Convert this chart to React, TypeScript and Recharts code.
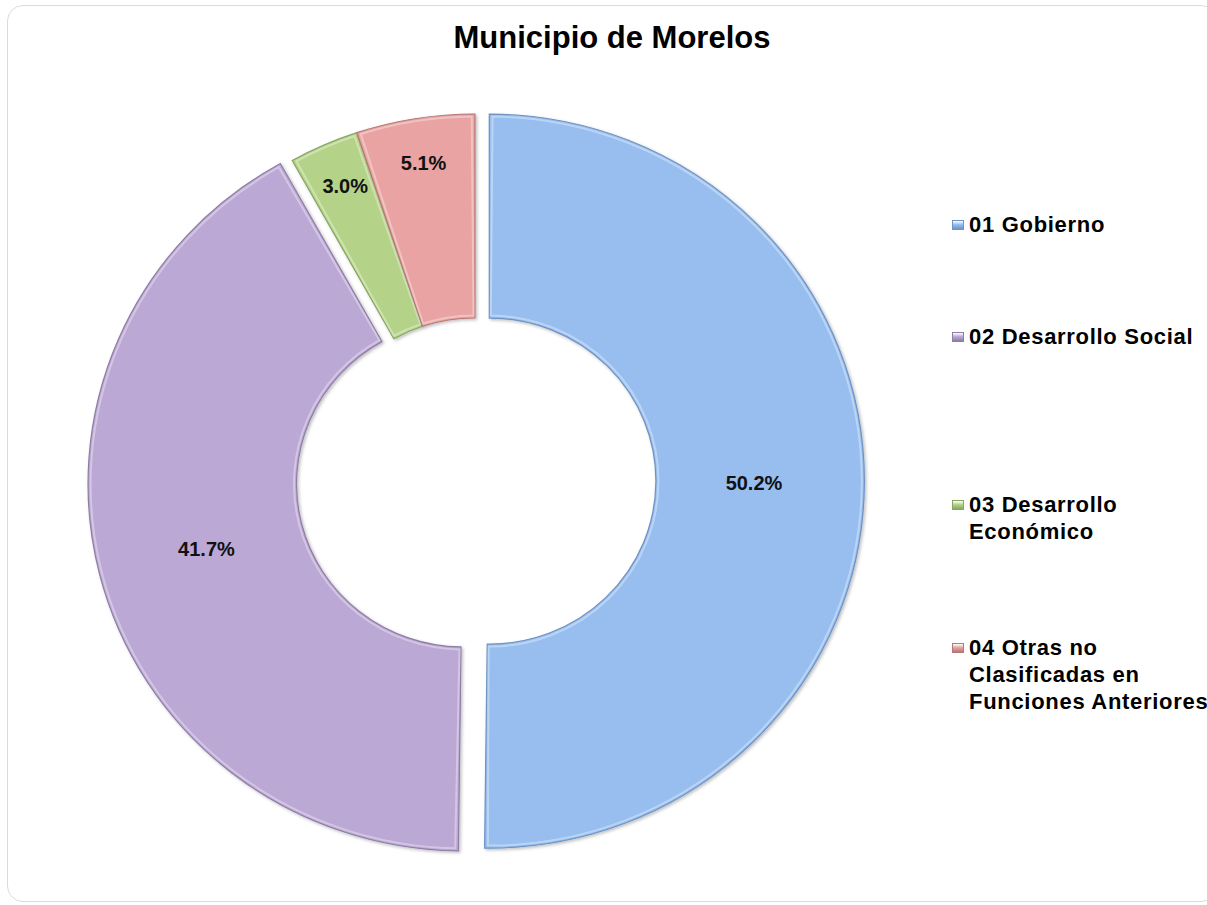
import React from "react";
import { PieChart, Pie, Cell, Sector, Legend } from "recharts";

const categories = [
  "01 Gobierno",
  "02 Desarrollo Social",
  "03 Desarrollo Económico",
  "04 Otras no Clasificadas en Funciones Anteriores",
];
const shares = [50.2, 41.7, 3.0, 5.1];
const legendLines = [
  ["01 Gobierno"],
  ["02 Desarrollo Social"],
  ["03 Desarrollo", "Económico"],
  ["04 Otras no", "Clasificadas en", "Funciones Anteriores"],
];

const COLORS = ["#97BEEF", "#BBA8D4", "#B4D389", "#E8A3A2"];
const EDGES = ["#6F93C4", "#8F7DA8", "#88A660", "#B97877"];
const EXPLODE = [14, 12, 0, 0];
const LEGEND_TOP = [211, 323, 491, 634];
const STRETCH_X = 1.022;

const RAD = Math.PI / 180;

const data = categories.map((name, i) => ({ name, value: shares[i] }));

function shift(index: number, midAngle: number) {
  const off = EXPLODE[index] ?? 0;
  return {
    dx: off * Math.cos(-midAngle * RAD),
    dy: off * Math.sin(-midAngle * RAD),
  };
}

function Slice(props: any) {
  const { cx, cy, innerRadius, outerRadius, startAngle, endAngle, midAngle, index } = props;
  const { dx, dy } = shift(index, midAngle);
  const dir = startAngle > endAngle ? -1 : 1;
  return (
    <g transform={`translate(${cx} 0) scale(${STRETCH_X} 1) translate(${-cx} 0)`}>
      <g filter="url(#sliceShadow)">
        <Sector
          cx={cx + dx}
          cy={cy + dy}
          innerRadius={innerRadius}
          outerRadius={outerRadius}
          startAngle={startAngle}
          endAngle={endAngle}
          fill={COLORS[index]}
          stroke={EDGES[index]}
          strokeWidth={1.2}
        />
        <Sector
          cx={cx + dx}
          cy={cy + dy}
          innerRadius={innerRadius + 2.5}
          outerRadius={outerRadius - 2.5}
          startAngle={startAngle + dir * 0.5}
          endAngle={endAngle - dir * 0.5}
          fill="none"
          stroke="rgba(255,255,255,0.35)"
          strokeWidth={2}
        />
      </g>
    </g>
  );
}

function SliceLabel(props: any) {
  const { cx, cy, innerRadius, outerRadius, midAngle, index, value } = props;
  const { dx, dy } = shift(index, midAngle);
  const frac = value < 10 ? 0.78 : 0.5;
  const r = innerRadius + (outerRadius - innerRadius) * frac;
  const x = cx + dx + r * Math.cos(-midAngle * RAD);
  const y = cy + dy + r * Math.sin(-midAngle * RAD);
  return (
    <text
      x={x}
      y={y}
      textAnchor="middle"
      dominantBaseline="central"
      fontFamily="'Liberation Sans', Arial, sans-serif"
      fontWeight="bold"
      fontSize={20}
      fill="#111111"
    >
      {Number(value).toFixed(1)}%
    </text>
  );
}

function LegendBox() {
  return (
    <div style={{ position: "relative", width: 270, height: 905 }}>
      {legendLines.map((lines, i) => (
        <div
          key={categories[i]}
          style={{
            position: "absolute",
            left: 0,
            top: LEGEND_TOP[i],
            fontFamily: "'Liberation Sans', Arial, sans-serif",
            fontWeight: "bold",
            fontSize: 22,
            letterSpacing: 0.7,
            lineHeight: "27px",
            color: "#000",
            whiteSpace: "nowrap",
          }}
        >
          <span
            style={{
              position: "absolute",
              left: 0,
              top: 9,
              width: 12,
              height: 10,
              background: `linear-gradient(180deg, #ffffff 0%, ${COLORS[i]} 45%, ${EDGES[i]} 100%)`,
              border: `1px solid ${EDGES[i]}`,
              boxSizing: "border-box",
            }}
          />
          <div style={{ paddingLeft: 17 }}>
            {lines.map((l) => (
              <div key={l}>{l}</div>
            ))}
          </div>
        </div>
      ))}
    </div>
  );
}

export default function App() {
  return (
    <div
      style={{
        position: "relative",
        width: 1207,
        height: 905,
        overflow: "hidden",
        background: "#ffffff",
      }}
    >
      <style>{`body{margin:0;}`}</style>
      <div
        style={{
          position: "absolute",
          left: 7,
          top: 5,
          width: 1210,
          height: 897,
          border: "1.5px solid #dcdcd6",
          borderRadius: 16,
          boxSizing: "border-box",
        }}
      />
      <PieChart
        width={1207}
        height={905}
        margin={{ top: 0, right: 0, bottom: 0, left: 0 }}
        style={{ position: "absolute", left: 0, top: 0 }}
      >
        <defs>
          <filter id="sliceShadow" x="-10%" y="-10%" width="120%" height="120%">
            <feDropShadow dx="1.5" dy="1.5" stdDeviation="1.5" floodColor="#000" floodOpacity="0.25" />
          </filter>
        </defs>
        <text
          x={612}
          y={37}
          textAnchor="middle"
          dominantBaseline="central"
          fontFamily="'Liberation Sans', Arial, sans-serif"
          fontWeight="bold"
          fontSize={31}
          fill="#000"
        >
          Municipio de Morelos
        </text>
        <Pie
          data={data}
          dataKey="value"
          nameKey="name"
          cx={475}
          cy={481}
          innerRadius={163}
          outerRadius={367}
          startAngle={90}
          endAngle={-270}
          stroke="none"
          shape={Slice}
          label={SliceLabel}
          labelLine={false}
          isAnimationActive={false}
        >
          {data.map((d, i) => (
            <Cell key={d.name} fill={COLORS[i]} />
          ))}
        </Pie>
        <Legend
          content={() => <LegendBox />}
          wrapperStyle={{ position: "absolute", left: 952, top: 0, width: 270, height: 905 }}
        />
      </PieChart>
    </div>
  );
}
